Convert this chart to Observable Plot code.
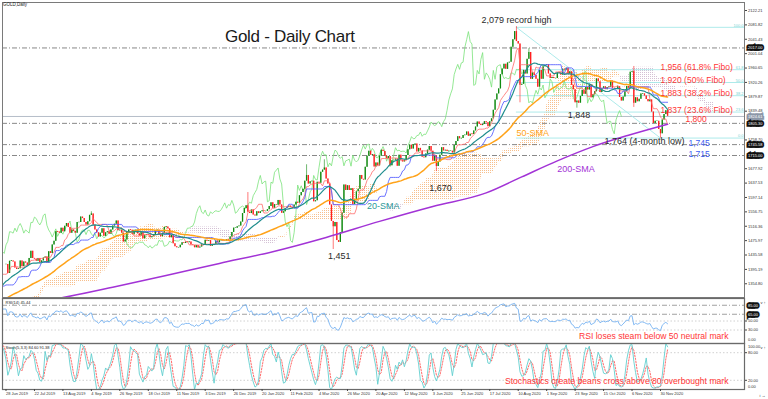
<!DOCTYPE html>
<html>
<head>
<meta charset="utf-8">
<script src="https://cdn.jsdelivr.net/npm/d3@7"></script>
<script src="https://cdn.jsdelivr.net/npm/@observablehq/plot@0.6"></script>
<style>
html,body{margin:0;padding:0;background:#fff;}
body{width:768px;height:399px;position:relative;overflow:hidden;font-family:"Liberation Sans",Arial,sans-serif;}
.panel{position:absolute;left:0;}
.panel svg{background:transparent !important;overflow:visible;}
#title{position:absolute;left:225px;top:27px;font-size:17px;letter-spacing:-0.3px;color:#1a1a1a;white-space:nowrap;}
#sym{position:absolute;left:3px;top:2px;font-size:4.5px;color:#222;white-space:nowrap;}
</style>
</head>
<body>
<svg width="0" height="0" style="position:absolute">
  <defs>
    <pattern id="kumoUp" width="2" height="2" patternUnits="userSpaceOnUse"><rect x="0" y="0" width="1" height="1" fill="#f7bf8c"/></pattern>
    <pattern id="kumoDn" width="2" height="2" patternUnits="userSpaceOnUse"><rect x="0" y="0" width="1" height="1" fill="#d4c0d4"/></pattern>
  </defs>
</svg>
<div id="main" class="panel" style="top:0"></div>
<div id="rsi" class="panel" style="top:298px"></div>
<div id="sto" class="panel" style="top:343px"></div>
<div id="sym">GOLD,Daily</div>
<div id="title">Gold - Daily Chart</div>
<script>
// ================= DATA =================
// daily closes before the first visible bar (Apr-Jun 2019), used for indicator warm-up
const preCloses = [
  1286,1291,1291,1290,1292, 1299,1303,1307,1293,1290, 1289,1276,1273,1275, 1277,1272,1276,1279,1286, 1280,1284,
  1277,1270,1280, 1282,1285,1281,1284,1286, 1301,1296,1297,1286,1277, 1277,1273,1274,1283,1285, 1283,1280,1280,1289,1305,
  1327,1325,1333,1336,1341, 1327,1327,1335,1342,1341, 1340,1346,1360,1388,1400, 1419,1423,1408,1409
];
// daily closes, 28 Jun 2019 (bar 0) .. 4 Dec 2020 (bar 372)
const closes = [
  1409,
  1384,1418,1419,1416,1399, 1395,1397,1419,1403,1416, 1413,1406,1426,1446,1426, 1424,1418,1426,1414,1419, 1427,1430,1413,
  1445,1440, 1464,1474,1501,1500,1497, 1511,1501,1516,1524,1513, 1497,1506,1502,1497,1527, 1527,1542,1538,1527,1520,
  1529,1547,1551,1519,1506, 1498,1486,1497,1509,1488, 1498,1501,1494,1506,1517, 1522,1531,1504,1505,1497, 1472,
  1478,1499,1506,1505, 1493,1505,1505,1495,1489, 1498,1481,1490,1492,1490, 1484,1487,1492,1504,1505, 1492,1487,1496,1513,
  1514, 1509,1484,1491,1467,1459, 1456,1456,1463,1470,1468, 1472,1471,1472,1464,1462, 1456,1462,1455,1458,1464,
  1463,1477,1474,1476,1460, 1462,1465,1475,1470,1476, 1476,1475,1475,1479,1478, 1486,1499,1511,1511, 1515,1517,
  1528,1552, 1566,1574,1556,1552,1562, 1548,1545,1557,1552,1557, 1560,1558,1558,1563,1572, 1582,1567,1577,1575,1589,
  1576,1553,1557,1566,1570, 1573,1569,1566,1576,1584, 1581,1602,1611,1620,1643, 1659,1635,1641,1643,1585,
  1588,1640,1637,1668,1674, 1680,1649,1635,1576,1530, 1515,1527,1476,1471,1498, 1553,1632,1617,1630,1617, 1622,1577,
  1591,1613,1620, 1659,1648,1646,1682, 1713,1727,1716,1717,1683, 1694,1686,1713,1730,1726, 1713,1707,1712,1686,
  1700, 1702,1705,1685,1716,1702, 1697,1702,1715,1731,1744, 1733,1745,1747,1725,1735, 1728,1710,1709,1719,1730,
  1740,1727,1699,1713,1684, 1697,1716,1737,1728,1730, 1726,1727,1727,1722,1743, 1754,1768,1762,1763,1771, 1772,1781,
  1769,1775,1774, 1784,1795,1809,1803,1799, 1802,1810,1807,1796,1810, 1818,1842,1871,1888,1902, 1942,1958,1971,1957,1975,
  1977,2019,2040,2063,2035, 2028,1912,1915,1954,1944, 1985,2004,1929,1947,1940, 1929,1907,1954,1929,1964, 1968,
  1970,1944,1931,1934, 1931,1931,1947,1946,1941, 1957,1955,1960,1944,1950, 1912,1900,1863,1868,1862, 1881,1898,1887,
  1906,1899, 1913,1877,1886,1894,1930, 1922,1892,1903,1908,1900, 1906,1907,1924,1904,1902, 1902,1908,1878,1868,1879,
  1894,1909,1904,1949,1951, 1862,1877,1866,1873,1888, 1888,1882,1872,1866,1871, 1837,1805,1811,1811,1788, 1776,
  1815,1830,1841,1825
];
// notable wick extremes (bar index, high, low)
const wickBars  = [48,   136,  169,  179,  184,  242,  287,  289,  294,  321,  353,  368];
const wickHighs = [1557, 1611, 1689, 1703, null, null, 2077, null, 2015, null, 1965, null];
const wickLows  = [null, null, null, null, 1451, 1670, null, 1863, null, 1848, 1850, 1764];

// 200-day SMA (bar index, value)
const sma200Bars = [0,    32,   60,   90,   120,  150,  180,  210,  240,  270,  290,  310,  330,  350,  372];
const sma200Vals = [1290, 1316, 1345, 1378, 1412, 1445, 1485, 1530, 1572, 1610, 1655, 1700, 1740, 1772, 1803];

// time axis labels (one every 16 bars)
const dateBars = [0,16,32,48,64,80,96,112,128,144,160,176,192,208,224,240,256,272,288,304,320,336,352,368];
const dateLabels = ["28 Jun 2019","22 Jul 2019","13 Aug 2019","4 Sep 2019","26 Sep 2019","18 Oct 2019","11 Nov 2019",
  "3 Dec 2019","26 Dec 2019","20 Jan 2020","11 Feb 2020","4 Mar 2020","26 Mar 2020","20 Apr 2020","12 May 2020",
  "3 Jun 2020","25 Jun 2020","17 Jul 2020","10 Aug 2020","1 Sep 2020","23 Sep 2020","15 Oct 2020","6 Nov 2020","30 Nov 2020"];

// price axis
const priceTicks = [2122.21,2081.82,2041.43,2001.04,1960.65,1920.26,1879.87,1839.48,1758.70,1677.92,1637.53,1597.14,1556.75,1516.36,1475.97,1435.58,1395.19,1354.80];
const levelPrices = [2017.00, 1805.30, 1745.58, 1715.00];
const bidPrice = 1824.61;

// Fibonacci retracement (record high -> 4-month low)
const fiboFromBar = 287, fiboToBar = 368;
const fiboPrices = [2075, 1956, 1920, 1883, 1837, 1764];
const fiboTags   = ["100.0","61.8","50.0","38.2","23.6","0.0"];

// annotations
const fiboNotes = ["1,956 (61.8% Fibo)","1,920 (50% Fibo)","1,883 (38.2% Fibo)","1,837 (23.6% Fibo)"];
const fiboNotePrices = [1956, 1920, 1883, 1837];
const darkNotes = ["2,079 record high","1,848","1,764 (4-month low)","1,670","1,451"];
const darkNoteBars = [287, 321, 368, 242, 184];
const darkNotePrices = [2079, 1848, 1764, 1670, 1451];
const maNotes = ["20-SMA","50-SMA","200-SMA"];
const maNoteBars = [203, 287, 310];
const maNotePrices = [1572, 1777, 1678];

// indicator panels
const rsiDashLevels = [85, 65];
const rsiDotLevels = [50, 30];
const rsiTicks = [50, 30];
const stoLevels = [80, 20];

// ================= BUILD =================
const BULL = "#118a11", BEAR = "#ff1f1f";
const xDomain = [-1.97, 415.24];
const FONT = "Liberation Sans, Arial, sans-serif";
const N0 = preCloses.length;
const allC = preCloses.concat(closes);
const bars = allC.map((c, k) => {
  const o = k > 0 ? allC[k - 1] : c;
  return {i: k - N0, o, c, h: Math.max(o, c), l: Math.min(o, c)};
});
wickBars.forEach((b, j) => {
  const d = bars[b + N0];
  if (wickHighs[j] != null) d.h = Math.max(d.h, wickHighs[j]);
  if (wickLows[j] != null) d.l = Math.min(d.l, wickLows[j]);
});
bars.forEach(d => {
  const m = Math.abs(d.c - d.o) < 1.6 ? 0.8 : 0;
  d.bt = Math.max(d.o, d.c) + m; d.bb = Math.min(d.o, d.c) - m;
  d.col = d.c >= d.o ? BULL : BEAR;
});
const visible = bars.filter(d => d.i >= 0);

function mid(k, n) {
  let hi = -Infinity, lo = Infinity;
  for (let j = Math.max(0, k - n + 1); j <= k; j++) { hi = Math.max(hi, bars[j].h); lo = Math.min(lo, bars[j].l); }
  return (hi + lo) / 2;
}
const ichi = bars.map((d, k) => ({i: d.i, tenkan: mid(k, 9), kijun: mid(k, 26)}));
const kumo = bars.map((d, k) => {
  const a = (ichi[k].tenkan + ichi[k].kijun) / 2, b = mid(k, 52);
  return {i: d.i + 26, a, b, top: Math.max(a, b)};
});
const chikou = bars.map(d => ({i: d.i - 26, c: d.c}));
const sma200 = sma200Bars.map((b, j) => ({i: b, v: sma200Vals[j]}));
const fiboRows = fiboPrices.map((p, j) => ({p, tag: fiboTags[j]}));
const fiboDiag = [{i: fiboFromBar, p: fiboPrices[0]}, {i: fiboToBar, p: fiboPrices[fiboPrices.length - 1]}];
const boxRows = [{p: 2017.00, bg: "#111"}, {p: bidPrice, bg: "#8c97a8"}, {p: 1805.30, bg: "#111"}, {p: 1745.58, bg: "#111"}, {p: 1715.00, bg: "#111"}];

// RSI(14)
const rsi = [];
{
  let ag = 0, al = 0;
  for (let k = 1; k < allC.length; k++) {
    const ch = allC[k] - allC[k - 1];
    const g = Math.max(ch, 0), l = Math.max(-ch, 0);
    if (k <= 14) { ag += g / 14; al += l / 14; }
    else { ag = (ag * 13 + g) / 14; al = (al * 13 + l) / 14; }
    if (k >= 14) rsi.push({i: k - N0, v: al === 0 ? 100 : 100 - 100 / (1 + ag / al)});
  }
}
// Stochastic(5,3,3)
const stoK = [], stoD = [];
{
  const num = [], den = [], K = [];
  for (let k = 0; k < bars.length; k++) {
    if (k < 4) continue;
    let hh = -Infinity, ll = Infinity;
    for (let j = k - 4; j <= k; j++) { hh = Math.max(hh, bars[j].h); ll = Math.min(ll, bars[j].l); }
    num[k] = bars[k].c - ll; den[k] = hh - ll;
    if (k >= 6) {
      const sN = num[k] + num[k - 1] + num[k - 2], sD = den[k] + den[k - 1] + den[k - 2];
      K[k] = sD > 0 ? 100 * sN / sD : 100;
      stoK.push({i: bars[k].i, v: K[k]});
      if (k >= 8) stoD.push({i: bars[k].i, v: (K[k] + K[k - 1] + K[k - 2]) / 3});
    }
  }
}

const dash = "5,2,1,2";
const noteMarks = [];
fiboNotes.forEach((t, j) => noteMarks.push(Plot.text([t], {x: fiboToBar, y: fiboNotePrices[j], text: d => d, textAnchor: "start", fill: "#ff3535", fontSize: 8.5, dy: -2})));
noteMarks.push(Plot.text(["1,800"], {x: fiboToBar, y: levelPrices[1], text: d => d, textAnchor: "start", fill: "#ff3535", fontSize: 8.5, dx: 25, dy: -4}));
noteMarks.push(Plot.text(["1,745"], {x: fiboToBar, y: levelPrices[2], text: d => d, textAnchor: "start", fill: "#3c5cf0", fontSize: 8.5, dx: 28, dy: -1}));
noteMarks.push(Plot.text(["1,715"], {x: fiboToBar, y: levelPrices[3], text: d => d, textAnchor: "start", fill: "#3c5cf0", fontSize: 8.5, dx: 28, dy: -1}));
const darkOff = [[0, -6, "middle"], [2, 7, "middle"], [-16, 3, "middle"], [4, 17, "middle"], [6, 7, "middle"]];
darkNotes.forEach((t, j) => noteMarks.push(Plot.text([t], {x: darkNoteBars[j], y: darkNotePrices[j], text: d => d, textAnchor: darkOff[j][2], fill: "#2a2a2a", fontSize: 9, dx: darkOff[j][0], dy: darkOff[j][1]})));
const maCol = ["#2a9999", "#ffa31a", "#a233d6"];
maNotes.forEach((t, j) => noteMarks.push(Plot.text([t], {x: maNoteBars[j], y: maNotePrices[j], text: d => d, textAnchor: "start", fill: maCol[j], fontSize: 9})));

const main = Plot.plot({
  width: 768, height: 299, marginLeft: 2, marginRight: 24, marginTop: 2, marginBottom: 2,
  x: {domain: xDomain, axis: null},
  y: {domain: [1316.26, 2144.68], axis: null},
  color: {type: "identity"},
  style: {background: "transparent", fontFamily: FONT},
  marks: [
    Plot.areaY(kumo, {x: "i", y1: "b", y2: "top", fill: "url(#kumoUp)", clip: true}),
    Plot.areaY(kumo, {x: "i", y1: "a", y2: "top", fill: "url(#kumoDn)", clip: true}),
    Plot.ruleY(levelPrices, {stroke: "#6a6a6a", strokeWidth: 0.8, strokeDasharray: dash}),
    Plot.ruleY([bidPrice], {stroke: "#a2acbb", strokeWidth: 0.8}),
    Plot.ruleY(fiboRows, {y: "p", x1: fiboFromBar, x2: xDomain[1], stroke: "#a4e8e8", strokeWidth: 0.9}),
    Plot.line(fiboDiag, {x: "i", y: "p", stroke: "#a4e8e8", strokeWidth: 0.9}),
    Plot.text(fiboRows, {x: xDomain[1], y: "p", text: "tag", textAnchor: "end", fill: "#79d3d3", fontSize: 4, dx: -1, dy: -2}),
    Plot.line(chikou, {x: "i", y: "c", stroke: "#7ae27a", strokeWidth: 0.8, clip: true}),
    Plot.ruleX(visible, {x: "i", y1: "l", y2: "h", stroke: "col", strokeWidth: 0.6, clip: true}),
    Plot.ruleX(visible, {x: "i", y1: "bb", y2: "bt", stroke: "col", strokeWidth: 1.3, clip: true}),
    Plot.line(ichi, {x: "i", y: "tenkan", stroke: "#ff6a6a", strokeWidth: 0.8, clip: true}),
    Plot.line(ichi, {x: "i", y: "kijun", stroke: "#5a62ff", strokeWidth: 0.9, clip: true}),
    Plot.line(sma200, {x: "i", y: "v", stroke: "#a233d6", strokeWidth: 1.5, curve: "monotone-x", clip: true}),
    Plot.lineY(bars, Plot.windowY({k: 50, anchor: "end"}, {x: "i", y: "c", stroke: "#ffa31a", strokeWidth: 1.5, clip: true})),
    Plot.lineY(bars, Plot.windowY({k: 20, anchor: "end"}, {x: "i", y: "c", stroke: "#1f8d8d", strokeWidth: 1.2, clip: true})),
    ...noteMarks,
    Plot.frame({stroke: "#7a7a7a", strokeWidth: 1}),
    Plot.axisY({ticks: priceTicks, anchor: "right", tickSize: 2, tickPadding: 1.5, fontSize: 4, tickFormat: d => d.toFixed(2), stroke: "#444", fill: "#333"}),
    Plot.text(boxRows, {x: xDomain[1], y: "p", text: d => d.p.toFixed(2), textAnchor: "start", dx: 3.5, fontSize: 4, fill: "#fff", stroke: "bg", strokeWidth: 3.6, strokeLinejoin: "miter", paintOrder: "stroke"})
  ]
});
document.getElementById("main").append(main);

const rsiChart = Plot.plot({
  width: 768, height: 45, marginLeft: 2, marginRight: 24, marginTop: 0, marginBottom: 0,
  x: {domain: xDomain, axis: null},
  y: {domain: [0, 100], axis: null},
  style: {background: "transparent", fontFamily: FONT},
  marks: [
    Plot.ruleY(rsiDashLevels, {stroke: "#8a8a8a", strokeWidth: 0.8, strokeDasharray: dash}),
    Plot.ruleY(rsiDotLevels, {stroke: "#c4c4c4", strokeWidth: 0.8, strokeDasharray: "1.5,2"}),
    Plot.line(rsi, {x: "i", y: "v", stroke: "#76b2f2", strokeWidth: 0.9, clip: true}),
    Plot.frame({stroke: "#6a6a6a", strokeWidth: 1.2}),
    Plot.axisY({ticks: rsiTicks, anchor: "right", tickSize: 2, tickPadding: 1.5, fontSize: 4, tickFormat: d => d.toFixed(2), stroke: "#444", fill: "#333"}),
    Plot.text([0], {x: xDomain[1], y: d => d, text: d => d.toFixed(2), textAnchor: "start", dx: 3.5, dy: -4, fontSize: 4, fill: "#333"}),
    Plot.text(rsiDashLevels, {x: xDomain[1], y: d => d, text: d => d.toFixed(2), textAnchor: "start", dx: 3.5, fontSize: 4, fill: "#fff", stroke: "#111", strokeWidth: 3.6, strokeLinejoin: "miter", paintOrder: "stroke"}),
    Plot.text(["RSI(14) 45.44"], {frameAnchor: "top-left", text: d => d, dx: 3, dy: 3, fontSize: 4, fill: "#222"}),
    Plot.text(["RSI loses steam below 50 neutral mark"], {frameAnchor: "bottom-right", text: d => d, dx: -16, dy: -5, fontSize: 8.6, fill: "#ff3535"})
  ]
});
document.getElementById("rsi").append(rsiChart);

const stoChart = Plot.plot({
  width: 768, height: 56, marginLeft: 2, marginRight: 24, marginTop: 0, marginBottom: 10,
  x: {domain: xDomain, axis: null},
  y: {domain: [0, 100], axis: null},
  style: {background: "transparent", fontFamily: FONT},
  marks: [
    Plot.ruleY(stoLevels, {stroke: "#c4c4c4", strokeWidth: 0.8, strokeDasharray: "1.5,2"}),
    Plot.line(stoD, {x: "i", y: "v", stroke: "#ff5a5a", strokeWidth: 0.9, strokeDasharray: "1.5,1.5", clip: true}),
    Plot.line(stoK, {x: "i", y: "v", stroke: "#62cfcf", strokeWidth: 0.9, clip: true}),
    Plot.frame({stroke: "#6a6a6a", strokeWidth: 1.2}),
    Plot.axisY({ticks: stoLevels, anchor: "right", tickSize: 2, tickPadding: 1.5, fontSize: 4, tickFormat: d => d.toFixed(2), stroke: "#444", fill: "#333"}),
    Plot.text([100], {x: xDomain[1], y: d => d, text: d => d.toFixed(2), textAnchor: "start", dx: 3.5, dy: 3, fontSize: 4, fill: "#333"}),
    Plot.text([0], {x: xDomain[1], y: d => d, text: d => d.toFixed(2), textAnchor: "start", dx: 3.5, dy: -3, fontSize: 4, fill: "#333"}),
    Plot.axisX({ticks: dateBars, anchor: "bottom", tickSize: 2, tickPadding: 1, fontSize: 4, textAnchor: "start", tickFormat: d => dateLabels[dateBars.indexOf(d)], stroke: "#444", fill: "#333"}),
    Plot.text(["Stoch(5,3,3) 84.60 91.38"], {frameAnchor: "top-left", text: d => d, dx: 3, dy: 3, fontSize: 4, fill: "#222"}),
    Plot.text(["Stochastics create bearis cross above 80 overbought mark"], {frameAnchor: "bottom-right", text: d => d, dx: -16, dy: -6, fontSize: 8.6, fill: "#ff3535"})
  ]
});
document.getElementById("sto").append(stoChart);
</script>
</body>
</html>
